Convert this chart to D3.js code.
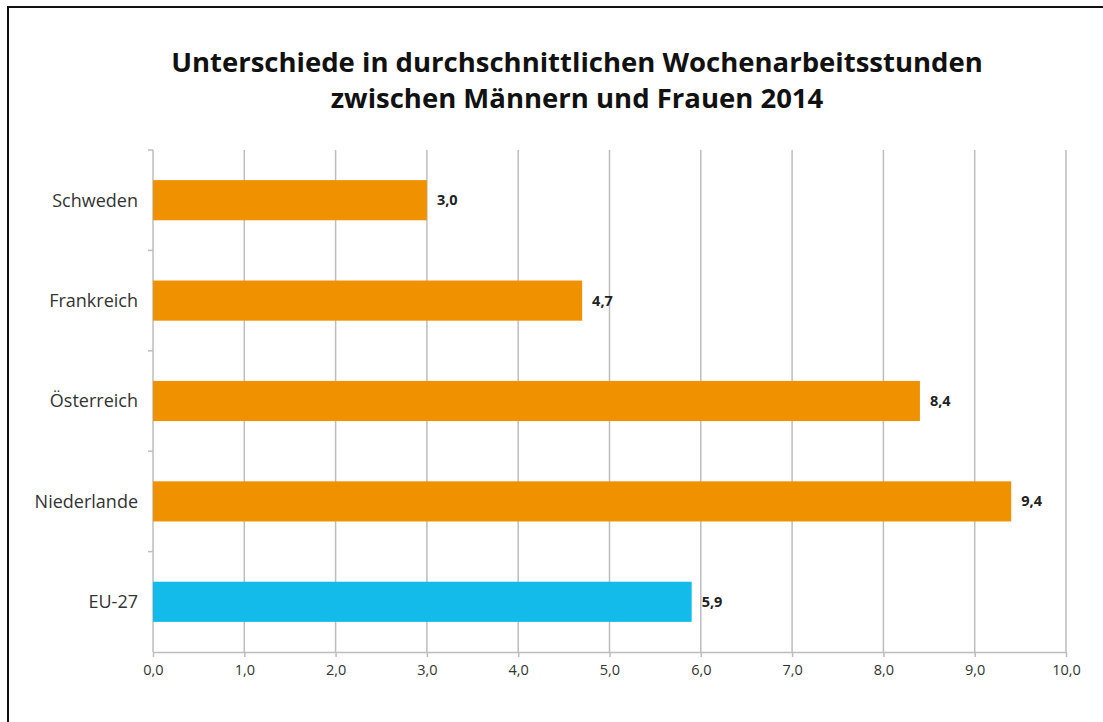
<!DOCTYPE html>
<html>
<head>
<meta charset="utf-8">
<script src="https://cdn.jsdelivr.net/npm/d3@7"></script>
<style>
  body { margin: 0; background: #fff; }
  text { font-family: "Open Sans", "Noto Sans", sans-serif; }
</style>
</head>
<body>
<svg id="chart" width="1103" height="722"></svg>
<script>
// data
var countries = ["Schweden", "Frankreich", "Österreich", "Niederlande", "EU-27"];
var values = [3.0, 4.7, 8.4, 9.4, 5.9];
var barColors = ["#f09100", "#f09100", "#f09100", "#f09100", "#12bbea"];
var tickValues = [0, 1, 2, 3, 4, 5, 6, 7, 8, 9, 10];

var svg = d3.select("#chart");

// frame round the picture
svg.append("rect")
  .attr("x", 8)
  .attr("y", 7)
  .attr("width", 1110)
  .attr("height", 730)
  .style("fill", "none")
  .style("stroke", "#111")
  .style("stroke-width", 2);

// title
var title = svg.append("text")
  .attr("x", 577)
  .attr("y", 72)
  .attr("text-anchor", "middle")
  .style("font-size", "27.5px")
  .style("font-weight", "bold")
  .style("fill", "#111");
title.append("tspan").attr("x", 577).attr("dy", 0)
  .text("Unterschiede in durchschnittlichen Wochenarbeitsstunden");
title.append("tspan").attr("x", 577).attr("dy", 36)
  .text("zwischen Männern und Frauen 2014");

var x = d3.scaleLinear().domain([0, 10]).range([153, 1066]);
var y = d3.scaleBand().domain(countries).range([150, 652]).paddingInner(0.6).paddingOuter(0.3);

var fmt = function (d) { return d3.format(".1f")(d).replace(".", ","); };

// vertical grid lines
svg.append("g").selectAll("line")
  .data(tickValues)
  .enter().append("line")
  .attr("x1", function (d) { return x(d); })
  .attr("x2", function (d) { return x(d); })
  .attr("y1", 150)
  .attr("y2", 652)
  .style("stroke", "#bdbdbd")
  .style("stroke-width", 1.5);

// left tick marks at band boundaries
var bounds = [150, 250.4, 350.8, 451.2, 551.6];
svg.append("g").selectAll("line")
  .data(bounds)
  .enter().append("line")
  .attr("x1", 148)
  .attr("x2", 153)
  .attr("y1", function (d) { return d; })
  .attr("y2", function (d) { return d; })
  .style("stroke", "#bdbdbd")
  .style("stroke-width", 1.5);

// x axis
var xAxis = svg.append("g")
  .attr("transform", "translate(0,652)")
  .call(d3.axisBottom(x).tickValues(tickValues).tickSize(5).tickSizeOuter(0).tickFormat(fmt));
xAxis.select(".domain").style("stroke", "#bdbdbd").style("stroke-width", 1.5);
xAxis.selectAll(".tick line").style("stroke", "#bdbdbd").style("stroke-width", 1.5);
xAxis.selectAll(".tick text")
  .attr("y", 13)
  .style("font-size", "14.5px")
  .style("fill", "#333")
  .style("font-family", "'Open Sans', 'Noto Sans', sans-serif");

// bars
svg.append("g").selectAll("rect")
  .data(countries)
  .enter().append("rect")
  .attr("x", x(0))
  .attr("y", function (d) { return y(d); })
  .attr("width", function (d, i) { return x(values[i]) - x(0); })
  .attr("height", y.bandwidth())
  .style("fill", function (d, i) { return barColors[i]; });

// category labels
svg.append("g").selectAll("text")
  .data(countries)
  .enter().append("text")
  .attr("x", 138)
  .attr("y", function (d) { return y(d) + y.bandwidth() / 2; })
  .attr("dy", "0.35em")
  .attr("text-anchor", "end")
  .style("font-size", "18px")
  .style("fill", "#333")
  .text(function (d) { return d; });

// value labels
svg.append("g").selectAll("text")
  .data(countries)
  .enter().append("text")
  .attr("x", function (d, i) { return x(values[i]) + 10; })
  .attr("y", function (d) { return y(d) + y.bandwidth() / 2; })
  .attr("dy", "0.35em")
  .style("font-size", "14.5px")
  .style("font-weight", "bold")
  .style("fill", "#222")
  .text(function (d, i) { return fmt(values[i]); });
</script>
</body>
</html>
